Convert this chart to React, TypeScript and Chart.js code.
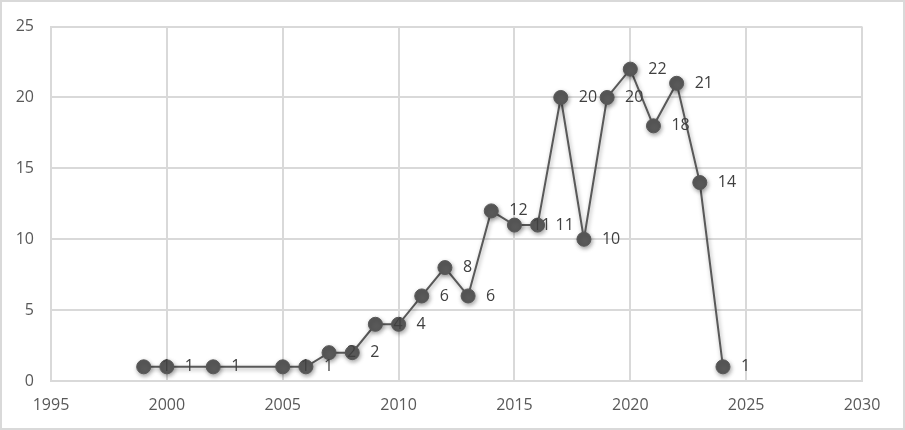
import React, { useEffect, useRef } from "react";
import { Chart, registerables } from "chart.js";

Chart.register(...registerables);

const years = [1999, 2000, 2002, 2005, 2006, 2007, 2008, 2009, 2010, 2011, 2012, 2013, 2014, 2015, 2016, 2017, 2018, 2019, 2020, 2021, 2022, 2023, 2024];
const counts = [1, 1, 1, 1, 1, 2, 2, 4, 4, 6, 8, 6, 12, 11, 11, 20, 10, 20, 22, 18, 21, 14, 1];
const xMin = 1995;
const xMax = 2030;
const yMin = 0;
const yMax = 25;

const FONT = "'Open Sans', 'DejaVu Sans', sans-serif";
const GRID = "#d9d9d9";
const MARK = "#595959";
const TEXT = "#595959";

const framePlugin = {
  id: "frame",
  beforeDraw(chart: any) {
    const ctx = chart.ctx;
    ctx.save();
    ctx.fillStyle = "#ffffff";
    ctx.fillRect(0, 0, chart.width, chart.height);
    ctx.strokeStyle = GRID;
    ctx.lineWidth = 2;
    ctx.strokeRect(1, 1, chart.width - 2, chart.height - 2);
    ctx.restore();
  },
};

const shadowPlugin = {
  id: "shadow",
  beforeDatasetsDraw(chart: any) {
    const ctx = chart.ctx;
    ctx.save();
    ctx.shadowColor = "rgba(0,0,0,0.35)";
    ctx.shadowBlur = 4;
    ctx.shadowOffsetX = 1;
    ctx.shadowOffsetY = 2;
  },
  afterDatasetsDraw(chart: any) {
    chart.ctx.restore();
  },
};

const labelPlugin = {
  id: "pointLabels",
  afterDatasetsDraw(chart: any) {
    const ctx = chart.ctx;
    const meta = chart.getDatasetMeta(0);
    const data = chart.data.datasets[0].data as any[];
    ctx.save();
    ctx.font = `16px ${FONT}`;
    ctx.fillStyle = "#404040";
    ctx.textAlign = "left";
    ctx.textBaseline = "middle";
    meta.data.forEach((pt: any, i: number) => {
      ctx.fillText(String(data[i].y), pt.x + 18, pt.y);
    });
    ctx.restore();
  },
};

export default function App() {
  const ref = useRef<HTMLCanvasElement | null>(null);
  useEffect(() => {
    if (!ref.current) return;
    const chart = new Chart(ref.current, {
      type: "scatter",
      data: {
        datasets: [
          {
            data: years.map((x, i) => ({ x, y: counts[i] })),
            showLine: true,
            borderColor: MARK,
            borderWidth: 2,
            backgroundColor: MARK,
            pointRadius: 7,
            pointHoverRadius: 7,
            pointBorderWidth: 1,
            pointBorderColor: MARK,
            pointBackgroundColor: MARK,
          },
        ],
      },
      options: {
        animation: false,
        responsive: false,
        maintainAspectRatio: false,
        layout: { padding: { top: 24, right: 43, left: 0, bottom: 0 } },
        plugins: {
          legend: { display: false },
          tooltip: { enabled: false },
          title: { display: false },
        },
        scales: {
          x: {
            type: "linear",
            min: xMin,
            max: xMax,
            ticks: {
              stepSize: 5,
              padding: 15,
              color: TEXT,
              font: { family: FONT, size: 16 },
              callback: (v: any) => String(v),
            },
            grid: { color: GRID, lineWidth: 2, drawTicks: false },
            border: { color: GRID, width: 2 },
            afterFit: (s: any) => {
              s.height = 49;
            },
          },
          y: {
            type: "linear",
            min: yMin,
            max: yMax,
            ticks: {
              stepSize: 5,
              padding: 17,
              color: TEXT,
              font: { family: FONT, size: 16 },
            },
            grid: { color: GRID, lineWidth: 2, drawTicks: false },
            border: { color: GRID, width: 2 },
            afterFit: (s: any) => {
              s.width = 51;
            },
          },
        },
      },
      plugins: [framePlugin, shadowPlugin, labelPlugin],
    });
    return () => chart.destroy();
  }, []);
  return (
    <div style={{ position: "absolute", left: 0, top: 0, width: 905, height: 430 }}>
      <canvas ref={ref} width={905} height={430} style={{ width: 905, height: 430, display: "block" }} />
    </div>
  );
}
